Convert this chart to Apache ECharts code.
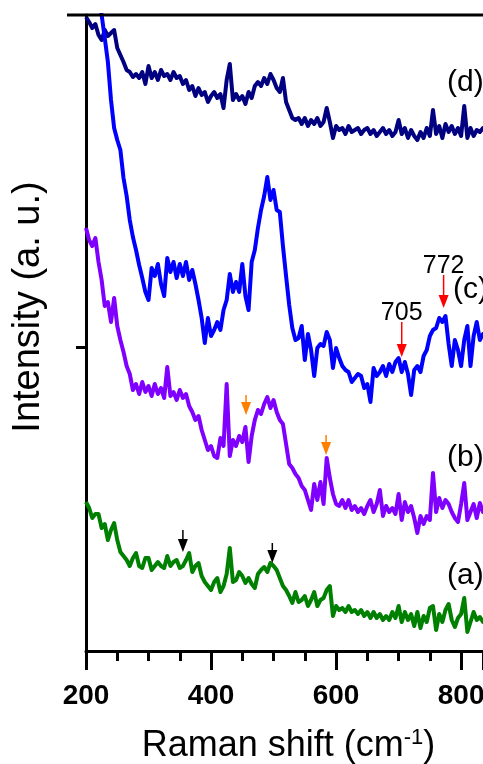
<!DOCTYPE html>
<html>
<head>
<meta charset="utf-8">
<script src="https://cdn.jsdelivr.net/npm/echarts@6/dist/echarts.min.js"></script>
<style>
  html, body { margin: 0; padding: 0; background: #ffffff; }
  #chart { width: 483px; height: 764px; }
</style>
</head>
<body>
<div id="chart"></div>
<script>
// Raman shift grid (cm-1) shared by all four spectra
const ramanShift = [
  200,205,210,215,220,225,230,235,240,245,250,255,260,265,270,275,280,285,290,295,
  300,305,310,315,320,325,330,335,340,345,350,355,360,365,370,375,380,385,390,395,
  400,405,410,415,420,425,430,435,440,445,450,455,460,465,470,475,480,485,490,495,
  500,505,510,515,520,525,530,535,540,545,550,555,560,565,570,575,580,585,590,595,
  600,605,610,615,620,625,630,635,640,645,650,655,660,665,670,675,680,685,690,695,
  700,705,710,715,720,725,730,735,740,745,750,755,760,765,770,775,780,785,790,795,
  800,805,810,815,820,825,830,835,840
];

// Offset intensities (a. u.) for spectra (a)-(d)
const intensityA = [
  149,143,133,137,137,123,127,111,121,128,111,99,95,91,85,93,98,85,83,93,
  93,81,85,89,85,83,95,85,89,91,83,85,91,98,79,85,88,75,69,65,
  61,69,73,59,65,77,103,69,71,79,75,68,73,67,63,77,81,84,79,88,
  85,81,73,65,61,55,48,59,49,51,55,45,51,59,45,51,53,61,65,35,
  45,41,43,39,45,39,41,37,41,35,39,33,39,33,37,31,35,31,39,33,
  45,29,39,31,37,25,39,23,35,29,43,45,21,37,29,41,47,31,24,33,
  37,53,19,29,39,31,34,29,35
];
const intensityB = [
  423,411,405,413,389,371,345,349,329,353,325,311,299,285,277,261,267,257,269,259,
  265,255,267,257,263,253,284,255,259,251,261,253,257,245,239,231,235,221,211,201,
  205,195,193,213,205,267,195,211,205,215,209,224,189,215,231,241,237,247,254,243,
  251,239,231,227,207,187,183,177,173,165,161,151,141,167,151,169,147,193,173,157,
  147,145,151,143,151,141,145,139,143,137,145,151,139,147,161,135,145,139,143,137,
  157,131,149,139,145,133,118,135,127,135,131,178,139,153,143,151,147,139,133,129,
  147,168,131,139,147,133,148,139,145
];
const intensityC = [
  null,null,null,null,651,636,613,589,551,523,511,501,473,455,431,414,401,386,373,359,
  351,383,375,387,367,355,393,379,389,373,387,375,389,371,381,367,351,333,308,333,
  315,321,329,321,341,351,377,359,369,359,387,355,341,389,401,423,441,455,474,451,
  461,441,439,405,375,346,323,311,313,325,291,317,301,275,303,307,305,319,311,283,
  303,293,285,281,279,269,273,277,275,263,267,249,283,275,279,285,275,287,279,289,
  293,279,289,277,256,281,285,279,295,301,315,321,323,333,329,335,307,285,311,301,
  285,311,325,285,315,329,311,317,313
];
const intensityD = [
  634,629,623,627,616,611,621,615,618,621,603,596,589,581,579,574,577,573,579,567,
  585,573,579,571,581,575,577,571,579,573,575,567,571,561,565,555,563,556,559,549,
  555,559,553,557,543,571,587,551,557,551,555,547,559,553,565,569,565,573,567,577,
  571,563,559,573,549,541,533,531,533,527,533,525,531,527,533,525,529,543,529,513,
  525,521,523,517,525,519,521,523,517,521,523,517,521,515,519,523,517,521,515,519,
  531,517,523,513,521,515,511,519,513,523,515,541,517,525,513,527,519,525,517,523,
  515,545,513,523,515,521,519,523,521
];

// Axis ranges and tick positions
const shiftRange = [200, 835];
const intensityRange = [0, 636];
const xTickStep = 200;
const yTickValues = [304];

// Marked bands: [shift, arrow start, arrow tip]
const redMarks = [[705, 329, 294], [772, 376, 343]];
const orangeMarks = [[456, 256, 236], [584, 216, 196]];
const blackMarks = [[355, 121, 99], [498, 108, 88]];

const FONT = '"Liberation Sans", Arial, Helvetica, sans-serif';

function pairs(ys) {
  return ramanShift.map((x, i) => [x, ys[i]]);
}

// Vertical arrows: a thin shaft ending in a filled triangular head at the tip value
function arrowSeries(marks, color, showValue) {
  return {
    type: 'custom',
    silent: true,
    animation: false,
    clip: false,
    z: 5,
    data: marks,
    renderItem: function (params, api) {
      const top = api.coord([api.value(0), api.value(1)]);
      const tip = api.coord([api.value(0), api.value(2)]);
      const headH = 13, headW = 10;
      const children = [
        { type: 'line', shape: { x1: top[0], y1: top[1], x2: tip[0], y2: tip[1] - headH + 1 },
          style: { stroke: color, lineWidth: 1.5 } },
        { type: 'polygon', shape: { points: [[tip[0] - headW / 2, tip[1] - headH], [tip[0] + headW / 2, tip[1] - headH], [tip[0], tip[1]]] },
          style: { fill: color } }
      ];
      if (showValue) {
        children.push({
          type: 'text',
          style: {
            text: String(api.value(0)), x: top[0], y: top[1] + 4,
            align: 'center', verticalAlign: 'bottom',
            font: '25px ' + FONT, fill: '#000'
          }
        });
      }
      return { type: 'group', children: children };
    }
  };
}

const chart = echarts.init(document.getElementById('chart'), null, { renderer: 'canvas' });

function spectrum(name, ys, color) {
  return {
    type: 'line', name: name, data: pairs(ys), color: color,
    showSymbol: false, symbol: 'none', smooth: false, clip: true, animation: false,
    lineStyle: { width: 4, color: color, join: 'round' }
  };
}

chart.setOption({
  backgroundColor: '#ffffff',
  animation: false,
  grid: { left: 86, right: 0, top: 15, bottom: 113, containLabel: false, outerBoundsMode: 'none' },
  xAxis: {
    type: 'value',
    min: shiftRange[0],
    max: shiftRange[1],
    interval: xTickStep,
    axisLine: { show: true, onZero: false, lineStyle: { color: '#000', width: 3 } },
    axisTick: { show: true, length: 19, lineStyle: { color: '#000', width: 3 } },
    minorTick: { show: true, splitNumber: 4, length: 10, lineStyle: { color: '#000', width: 3 } },
    splitLine: { show: false },
    axisLabel: {
      color: '#000', fontFamily: FONT, fontSize: 28, fontWeight: 'bold', margin: 31,
      showMinLabel: true, showMaxLabel: false
    },
    name: '{t|Raman shift (cm}{s|-1}{t|)}',
    nameLocation: 'middle',
    nameGap: 76,
    nameTextStyle: {
      padding: [0, 0, 0, 8],
      rich: {
        t: { fontFamily: FONT, fontSize: 36, color: '#000' },
        s: { fontFamily: FONT, fontSize: 22, color: '#000', verticalAlign: 'top', padding: [0, 0, 16, 0] }
      }
    }
  },
  yAxis: {
    type: 'value',
    min: intensityRange[0],
    max: intensityRange[1],
    axisLine: { show: true, onZero: false, lineStyle: { color: '#000', width: 3 } },
    axisTick: { show: true, customValues: yTickValues, length: 10, lineStyle: { color: '#000', width: 3 } },
    axisLabel: { show: false },
    splitLine: { show: false },
    name: 'Intensity (a. u.)',
    nameLocation: 'middle',
    nameGap: 38,
    nameTextStyle: { fontFamily: FONT, fontSize: 38, color: '#000', padding: [0, 0, 0, 52] }
  },
  graphic: [
    { type: 'line', shape: { x1: 67, y1: 15, x2: 483, y2: 15 }, style: { stroke: '#000', lineWidth: 3 }, z: 10 },
    { type: 'text', left: 447, top: 68, style: { text: '(d)', font: '30px ' + FONT, fill: '#000' } },
    { type: 'text', left: 453, top: 275, style: { text: '(c)', font: '30px ' + FONT, fill: '#000' } },
    { type: 'text', left: 447, top: 443, style: { text: '(b)', font: '30px ' + FONT, fill: '#000' } },
    { type: 'text', left: 447, top: 561, style: { text: '(a)', font: '30px ' + FONT, fill: '#000' } }
  ],
  series: [
    spectrum('(d)', intensityD, '#000080'),
    spectrum('(c)', intensityC, '#0000ff'),
    spectrum('(b)', intensityB, '#7f00ff'),
    spectrum('(a)', intensityA, '#008000'),
    arrowSeries(redMarks, '#ff0000', true),
    arrowSeries(orangeMarks, '#ff7f00', false),
    arrowSeries(blackMarks, '#000000', false)
  ]
});
</script>
</body>
</html>
